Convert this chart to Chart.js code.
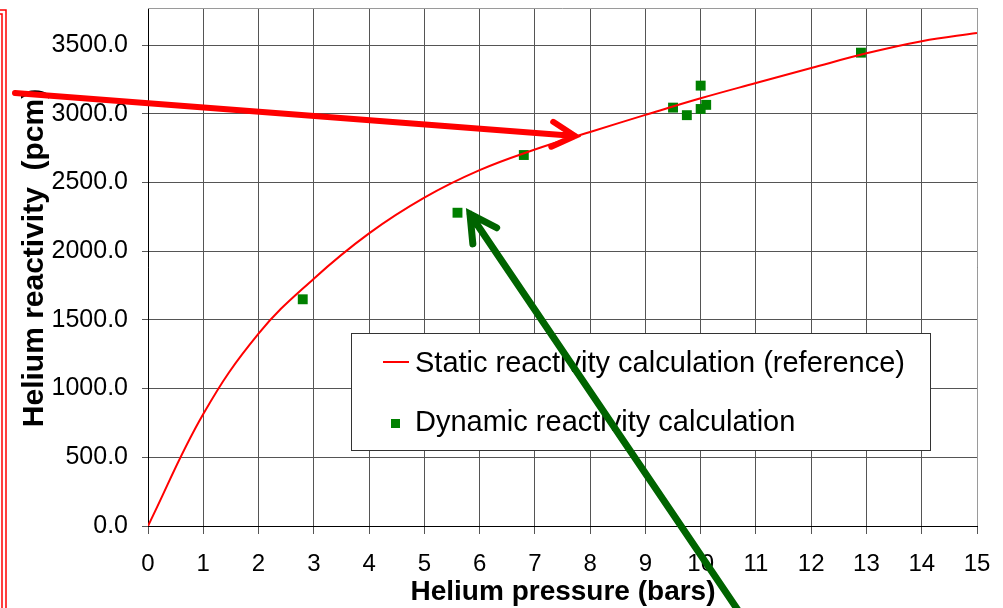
<!DOCTYPE html>
<html>
<head>
<meta charset="utf-8">
<script src="https://cdn.jsdelivr.net/npm/chart.js@4/dist/chart.umd.min.js"></script>
<style>
  body { margin: 0; background: #fff; }
  canvas { display: block; }
</style>
</head>
<body>
<canvas id="helium" width="1003" height="608"></canvas>
<script>
// static (reference) curve
const staticPressure = [0, 1, 2, 3, 4, 5, 6, 7, 8, 9, 10, 11, 12, 13, 14, 15];
const staticReactivity = [0, 815, 1400, 1800, 2130, 2390, 2590, 2740, 2868, 2992, 3113, 3224, 3333, 3440, 3528, 3588];

// dynamic measurements
const dynamicPressure = [2.8, 5.6, 6.8, 9.5, 9.75, 10.0, 10.0, 10.1, 12.9];
const dynamicReactivity = [1650, 2280, 2700, 3045, 2990, 3205, 3035, 3065, 3445];

const yTickValues = [0, 500, 1000, 1500, 2000, 2500, 3000, 3500];
const seriesLabels = ["Static reactivity calculation (reference)", "Dynamic reactivity calculation"];
const xTitle = "Helium pressure (bars)";
const yTitle = "Helium reactivity  (pcm)";

const FONT = "'Liberation Sans', Arial, sans-serif";

function arrow(ctx, x0, y0, x1, y1, color, width, head) {
  const ang = Math.atan2(y0 - y1, x0 - x1);
  ctx.save();
  ctx.strokeStyle = color;
  ctx.lineWidth = width;
  ctx.lineCap = "round";
  ctx.beginPath();
  ctx.moveTo(x0, y0);
  ctx.lineTo(x1, y1);
  ctx.moveTo(x1 + head * Math.cos(ang + 0.5), y1 + head * Math.sin(ang + 0.5));
  ctx.lineTo(x1, y1);
  ctx.lineTo(x1 + head * Math.cos(ang - 0.5), y1 + head * Math.sin(ang - 0.5));
  ctx.stroke();
  ctx.restore();
}

const extras = {
  id: "extras",
  beforeDatasetsDraw(chart) {
    const { ctx, chartArea: a } = chart;
    ctx.save();
    ctx.strokeStyle = "#9a9a9a";
    ctx.lineWidth = 1;
    ctx.beginPath();
    ctx.moveTo(a.left, a.top + 0.5);
    ctx.lineTo(a.right + 0.5, a.top + 0.5);
    ctx.lineTo(a.right + 0.5, a.bottom);
    ctx.stroke();
    ctx.restore();
  },
  afterDatasetsDraw(chart) {
    const ctx = chart.ctx;
    // legend box
    ctx.save();
    ctx.fillStyle = "#fff";
    ctx.fillRect(351, 333, 579, 117);
    ctx.strokeStyle = "#333";
    ctx.lineWidth = 1;
    ctx.strokeRect(351.5, 333.5, 579, 117);
    ctx.strokeStyle = "#ff0000";
    ctx.lineWidth = 2;
    ctx.beginPath();
    ctx.moveTo(383, 362);
    ctx.lineTo(409, 362);
    ctx.stroke();
    ctx.fillStyle = "#008000";
    ctx.fillRect(391, 419, 9, 9);
    ctx.fillStyle = "#000";
    ctx.font = "29px " + FONT;
    ctx.textBaseline = "middle";
    ctx.fillText(seriesLabels[0], 415, 364);
    ctx.fillText(seriesLabels[1], 415, 423);
    ctx.restore();
  },
  afterDraw(chart) {
    const ctx = chart.ctx;
    ctx.save();
    ctx.fillStyle = "#000";
    ctx.textAlign = "center";
    ctx.textBaseline = "middle";
    ctx.font = "bold 28px " + FONT;
    ctx.fillText(xTitle, 563, 592);
    ctx.translate(35, 258);
    ctx.rotate(-Math.PI / 2);
    ctx.font = "bold 30px " + FONT;
    ctx.fillText(yTitle, 0, 0);
    ctx.restore();

    // double red frame at the left edge
    ctx.save();
    ctx.strokeStyle = "#ff0000";
    ctx.lineWidth = 1.5;
    ctx.beginPath();
    ctx.moveTo(0, 10);
    ctx.lineTo(6, 10);
    ctx.lineTo(6, 608);
    ctx.moveTo(0, 14);
    ctx.lineTo(2, 14);
    ctx.lineTo(2, 608);
    ctx.stroke();
    ctx.restore();

    arrow(ctx, 15, 93, 575, 136, "#ff0000", 6, 26);
    arrow(ctx, 748, 625, 470, 214, "#006400", 7, 30);
  }
};

new Chart(document.getElementById("helium").getContext("2d"), {
  type: "scatter",
  data: {
    datasets: [
      {
        label: seriesLabels[0],
        showLine: true,
        data: staticPressure.map((x, i) => ({ x, y: staticReactivity[i] })),
        borderColor: "#ff0000",
        borderWidth: 2,
        pointRadius: 0,
        tension: 0.4,
      },
      {
        label: seriesLabels[1],
        data: dynamicPressure.map((x, i) => ({ x, y: dynamicReactivity[i] })),
        pointStyle: "rect",
        pointRadius: 7,
        backgroundColor: "#008000",
        borderColor: "#008000",
        borderWidth: 0,
      },
    ],
  },
  options: {
    responsive: false,
    animation: false,
    devicePixelRatio: 1,
    layout: { padding: { top: 8, right: 26, left: 0, bottom: 0 } },
    plugins: { legend: { display: false }, tooltip: { enabled: false } },
    scales: {
      x: {
        type: "linear",
        min: 0,
        max: 15,
        ticks: { stepSize: 1, color: "#000", padding: 16, font: { size: 24, family: FONT } },
        grid: { color: "#555", tickLength: 8, tickColor: "#555" },
        border: { color: "#000", width: 1 },
        afterFit: (s) => { s.height = 82; s.paddingLeft = 0; s.paddingRight = 0; },
      },
      y: {
        min: 0,
        max: 3770,
        afterBuildTicks: (s) => { s.ticks = yTickValues.map((v) => ({ value: v })); },
        ticks: {
          color: "#000",
          padding: 14,
          font: { size: 25, family: FONT },
          callback: (v) => Number(v).toFixed(1),
        },
        grid: { color: "#555", tickLength: 6, tickColor: "#555" },
        border: { color: "#000", width: 1 },
        afterFit: (s) => { s.width = 148; s.paddingTop = 0; s.paddingBottom = 0; },
      },
    },
  },
  plugins: [extras],
});
</script>
</body>
</html>
